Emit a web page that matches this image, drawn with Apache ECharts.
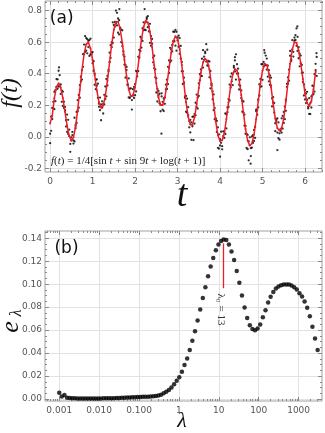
<!DOCTYPE html>
<html>
<head>
<meta charset="utf-8">
<script src="https://cdn.jsdelivr.net/npm/echarts@6/dist/echarts.min.js"></script>
<style>
  html, body { margin: 0; padding: 0; background: #fff; }
  #chart { width: 325px; height: 433px; }
</style>
</head>
<body>
<div id="chart"></div>
<script>
// ---- panel (a): noisy samples and the fitted signal, t step 0.05 / 0.025 ----
var RED_STEP = 0.05;
var redY = [0.085, 0.133, 0.245, 0.316, 0.339, 0.312, 0.246, 0.159, 0.071, 0.005,
  -0.023, -0.003, 0.065, 0.172, 0.298, 0.423, 0.525, 0.586, 0.599, 0.562,
  0.487, 0.390, 0.294, 0.220, 0.185, 0.198, 0.259, 0.356, 0.474, 0.588,
  0.679, 0.730, 0.730, 0.682, 0.595, 0.488, 0.383, 0.300, 0.257, 0.262,
  0.314, 0.403, 0.511, 0.616, 0.696, 0.736, 0.725, 0.666, 0.570, 0.454,
  0.341, 0.251, 0.202, 0.202, 0.249, 0.333, 0.434, 0.533, 0.606, 0.638,
  0.621, 0.556, 0.455, 0.335, 0.219, 0.128, 0.078, 0.077, 0.124, 0.208,
  0.309, 0.407, 0.472, 0.495, 0.482, 0.427, 0.327, 0.209, 0.096, 0.010,
  -0.027, -0.022, 0.023, 0.113, 0.219, 0.322, 0.398, 0.430, 0.420, 0.360,
  0.265, 0.154, 0.049, -0.024, -0.055, -0.042, 0.014, 0.112, 0.227, 0.337,
  0.421, 0.463, 0.456, 0.402, 0.315, 0.212, 0.116, 0.055, 0.040, 0.057,
  0.118, 0.225, 0.347, 0.464, 0.553, 0.599, 0.597, 0.548, 0.465, 0.367,
  0.277, 0.215, 0.195, 0.226, 0.302, 0.413];

var DOT_STEP = 0.025;
var dotsA = [0.020, 0.038, 0.183, 0.182, 0.285, 0.226, 0.316, 0.364, 0.319, 0.391,
  0.272, 0.292, 0.196, 0.223, 0.189, 0.105, 0.031, 0.108, 0.005, -0.045,
  -0.003, 0.031, -0.023, -0.029, 0.075, 0.158, 0.162, 0.265, 0.248, 0.381,
  0.423, 0.444, 0.585, 0.538, 0.626, 0.529, 0.609, 0.613, 0.522, 0.525,
  0.537, 0.419, 0.400, 0.302, 0.324, 0.337, 0.210, 0.169, 0.205, 0.185,
  0.148, 0.266, 0.239, 0.367, 0.326, 0.425, 0.474, 0.581, 0.568, 0.596,
  0.709, 0.698, 0.800, 0.706, 0.750, 0.649, 0.692, 0.680, 0.575, 0.541,
  0.458, 0.455, 0.443, 0.330, 0.250, 0.306, 0.257, 0.233, 0.302, 0.246,
  0.334, 0.288, 0.413, 0.507, 0.551, 0.544, 0.626, 0.608, 0.726, 0.810,
  0.726, 0.757, 0.695, 0.698, 0.716, 0.578, 0.590, 0.502, 0.434, 0.427,
  0.281, 0.304, 0.291, 0.213, 0.202, 0.256, 0.172, 0.243, 0.209, 0.301,
  0.363, 0.334, 0.484, 0.474, 0.553, 0.542, 0.606, 0.666, 0.578, 0.666,
  0.631, 0.571, 0.626, 0.496, 0.415, 0.415, 0.345, 0.247, 0.259, 0.152,
  0.188, 0.100, 0.028, 0.091, 0.067, 0.129, 0.084, 0.216, 0.188, 0.179,
  0.339, 0.358, 0.387, 0.495, 0.439, 0.508, 0.530, 0.477, 0.552, 0.451,
  0.377, 0.417, 0.327, 0.288, 0.169, 0.182, 0.106, 0.031, 0.060, -0.075,
  -0.015, -0.038, -0.059, 0.035, 0.033, 0.018, 0.143, 0.156, 0.239, 0.231,
  0.382, 0.352, 0.398, 0.449, 0.414, 0.363, 0.460, 0.402, 0.330, 0.363,
  0.245, 0.229, 0.154, 0.141, 0.019, 0.019, -0.078, -0.029, -0.003, -0.072,
  -0.068, 0.011, -0.026, 0.063, 0.162, 0.140, 0.237, 0.262, 0.367, 0.320,
  0.461, 0.445, 0.453, 0.515, 0.426, 0.451, 0.352, 0.389, 0.325, 0.243,
  0.252, 0.154, 0.086, 0.100, 0.117, -0.009, 0.022, 0.038, 0.027, 0.132,
  0.088, 0.192, 0.165, 0.316, 0.337, 0.426, 0.514, 0.480, 0.553, 0.539,
  0.629, 0.614, 0.577, 0.634, 0.498, 0.527, 0.465, 0.456, 0.347, 0.332,
  0.237, 0.274, 0.235, 0.190, 0.245, 0.144, 0.256, 0.264, 0.272, 0.397,
  0.423, 0.386];
var dotsB = [-0.040, 0.128, 0.113, 0.222, 0.175, 0.296, 0.366, 0.304, 0.419, 0.321,
  0.332, 0.222, 0.286, 0.183, 0.169, 0.065, 0.141, 0.018, 0.045, -0.095,
  -0.023, 0.011, -0.043, 0.121, 0.055, 0.088, 0.232, 0.185, 0.328, 0.351,
  0.363, 0.524, 0.525, 0.638, 0.546, 0.619, 0.569, 0.513, 0.622, 0.535,
  0.467, 0.479, 0.330, 0.362, 0.364, 0.247, 0.190, 0.249, 0.105, 0.225,
  0.208, 0.206, 0.319, 0.257, 0.386, 0.415, 0.534, 0.501, 0.598, 0.726,
  0.629, 0.728, 0.720, 0.786, 0.660, 0.739, 0.682, 0.600, 0.675, 0.521,
  0.508, 0.375, 0.423, 0.330, 0.370, 0.246, 0.307, 0.173, 0.262, 0.316,
  0.264, 0.418, 0.383, 0.417, 0.501, 0.634, 0.566, 0.688, 0.676, 0.680,
  0.676, 0.747, 0.765, 0.668, 0.596, 0.638, 0.620, 0.472, 0.514, 0.377,
  0.371, 0.224, 0.261, 0.273, 0.162, 0.276, 0.222, 0.163, 0.249, 0.331,
  0.303, 0.444, 0.404, 0.564, 0.483, 0.582, 0.666, 0.606, 0.678, 0.546,
  0.611, 0.641, 0.526, 0.576, 0.475, 0.335, 0.375, 0.257, 0.159, 0.242,
  0.138, 0.060, 0.108, -0.019, 0.127, -0.021, 0.144, 0.136, 0.268, 0.249,
  0.259, 0.398, 0.427, 0.385, 0.549, 0.488, 0.540, 0.587, 0.452, 0.481,
  0.477, 0.307, 0.337, 0.238, 0.269, 0.112, 0.116, 0.101, -0.070, 0.015,
  -0.055, 0.032, -0.079, 0.005, -0.007, 0.148, 0.053, 0.186, 0.189, 0.331,
  0.312, 0.402, 0.328, 0.439, 0.484, 0.523, 0.400, 0.432, 0.300, 0.323,
  0.295, 0.159, 0.224, 0.071, 0.069, -0.071, 0.012, -0.149, -0.053, -0.122,
  0.002, -0.039, 0.044, -0.007, 0.172, 0.170, 0.187, 0.332, 0.317, 0.460,
  0.361, 0.475, 0.533, 0.455, 0.496, 0.381, 0.422, 0.329, 0.375, 0.193,
  0.222, 0.214, 0.036, 0.110, 0.027, 0.091, -0.018, 0.048, 0.117, 0.052,
  0.158, 0.112, 0.235, 0.336, 0.377, 0.356, 0.544, 0.490, 0.613, 0.509,
  0.609, 0.644, 0.687, 0.544, 0.568, 0.447, 0.515, 0.406, 0.407, 0.262,
  0.297, 0.214, 0.285, 0.180, 0.145, 0.214, 0.186, 0.324, 0.322, 0.287,
  0.463, 0.506];
// a few stray samples far from the curve
var strayDots = [[0.21, 0.44], [1.63, 0.81], [2.62, 0.02], [4.0, -0.126], [4.72, -0.17],
  [5.35, -0.084], [4.35, 0.505], [5.04, 0.55], [5.82, 0.70], [6.27, 0.53]];

var tTicks = [0, 1, 2, 3, 4, 5, 6];
var fTicks = [-0.2, 0, 0.2, 0.4, 0.6, 0.8];

// ---- panel (b): e_lambda against lambda (log scale) ----
var lambdas = [0.00100, 0.00116, 0.00135, 0.00157, 0.00183, 0.00212, 0.00247, 0.00287, 0.00334, 0.00388,
  0.00451, 0.00524, 0.00610, 0.00709, 0.00824, 0.00958, 0.0111, 0.0130, 0.0151, 0.0175,
  0.0204, 0.0237, 0.0275, 0.0320, 0.0372, 0.0432, 0.0503, 0.0584, 0.0679, 0.0790,
  0.0918, 0.107, 0.124, 0.144, 0.168, 0.195, 0.227, 0.264, 0.306, 0.356,
  0.414, 0.482, 0.560, 0.651, 0.757, 0.880, 1.02, 1.19, 1.38, 1.61,
  1.87, 2.17, 2.53, 2.94, 3.42, 3.97, 4.61, 5.37, 6.24, 7.25,
  8.43, 9.80, 11.4, 13.2, 15.4, 17.9, 20.8, 24.2, 28.1, 32.7,
  38.0, 44.2, 51.4, 59.8, 69.5, 80.8, 93.9, 109, 127, 148,
  172, 199, 232, 270, 313, 364, 424, 493, 573, 666,
  774, 900, 1050, 1220, 1410, 1640, 1910, 2220, 2580, 3000];
var eLam = [0.0055, 0.0023, 0.0035, 0.0011, 0.0009, 0.0007, 0.0006, 0.0005, 0.0005, 0.0004,
  0.0004, 0.0004, 0.0004, 0.0004, 0.0005, 0.0005, 0.0005, 0.0006, 0.0006, 0.0007,
  0.0007, 0.0008, 0.0009, 0.0010, 0.0011, 0.0012, 0.0013, 0.0014, 0.0015, 0.0016,
  0.0017, 0.0018, 0.0019, 0.0020, 0.0021, 0.0023, 0.0025, 0.0027, 0.0030, 0.0038,
  0.0050, 0.0063, 0.0078, 0.0100, 0.0128, 0.0160, 0.0190, 0.0237, 0.0296, 0.0354,
  0.0426, 0.0507, 0.0590, 0.0684, 0.0780, 0.0880, 0.0974, 0.1070, 0.1154, 0.1229,
  0.1296, 0.1345, 0.1375, 0.1390, 0.1385, 0.1345, 0.1285, 0.1210, 0.1115, 0.1012,
  0.0902, 0.0798, 0.0706, 0.0643, 0.0609, 0.0600, 0.0614, 0.0650, 0.0713, 0.0774,
  0.0840, 0.0890, 0.0933, 0.0963, 0.0980, 0.0991, 0.0997, 0.0997, 0.0997, 0.0989,
  0.0974, 0.0954, 0.0922, 0.0893, 0.0850, 0.0794, 0.0720, 0.0630, 0.0528, 0.0426];
var lambda0 = 13;

var lamTicks = [0.001, 0.01, 0.1, 1, 10, 100, 1000];
var eTicks = [0, 0.02, 0.04, 0.06, 0.08, 0.10, 0.12, 0.14];

window.onload = function () {
    var RED = '#ee1c24';
    var TICK = '#8a8a8a';
    var GRIDC = '#e2e2e2';

    // minor tick positions
    var tMinor = [], fMinor = [], lamMinor = [], eMinor = [];
    for (var i = -1; i <= 32; i++) tMinor.push(i * 0.2);
    for (i = -5; i <= 17; i++) fMinor.push(i * 0.05);
    for (var p = -4; p <= 3; p++) for (var m = 2; m <= 9; m++) lamMinor.push(m * Math.pow(10, p));
    for (i = 0; i <= 29; i++) eMinor.push(i * 0.005);

    // one axis with long ticks (+labels), one with short ticks on the same side
    function axisPair(grid, type, pos, min, max, major, minor, fmt) {
        var base = {
            gridIndex: grid, type: type, position: pos, min: min, max: max,
            axisLine: { show: false, onZero: false }
        };
        if (type === 'log') base.logBase = 10;
        var main = Object.assign({}, base, {
            axisTick: { show: true, inside: true, length: 4, customValues: major, lineStyle: { color: TICK } },
            axisLabel: fmt ? {
                show: true, customValues: major, formatter: fmt, color: '#555',
                fontFamily: 'DejaVu Sans', fontSize: 9, margin: pos === 'bottom' ? 5 : 3
            } : { show: false },
            splitLine: { show: !!fmt, lineStyle: { color: GRIDC, width: 1 } }
        });
        var small = Object.assign({}, base, {
            axisTick: { show: true, inside: true, length: 2, customValues: minor, lineStyle: { color: TICK } },
            axisLabel: { show: false },
            splitLine: { show: false }
        });
        return [main, small];
    }

    var fmtT = function (v) { return String(Math.round(v)); };
    var fmtF = function (v) { return (Math.abs(v) < 1e-9 ? 0 : v).toFixed(1); };
    var fmtLam = function (v) { return v < 0.5 ? v.toFixed(3) : String(Math.round(v)); };
    var fmtE = function (v) { return (Math.abs(v) < 1e-9 ? 0 : v).toFixed(2); };

    var xAxes = [].concat(
        axisPair(0, 'value', 'bottom', -0.12, 6.4, tTicks, tMinor, fmtT),      // 0,1
        axisPair(0, 'value', 'top', -0.12, 6.4, tTicks, tMinor, null),         // 2,3
        axisPair(1, 'log', 'bottom', 0.00044, 3855, lamTicks, lamMinor, fmtLam), // 4,5
        axisPair(1, 'log', 'top', 0.00044, 3855, lamTicks, lamMinor, null)       // 6,7
    );
    var yAxes = [].concat(
        axisPair(0, 'value', 'left', -0.223, 0.861, fTicks, fMinor, fmtF),     // 0,1
        axisPair(0, 'value', 'right', -0.223, 0.861, fTicks, fMinor, null),    // 2,3
        axisPair(1, 'value', 'left', -0.0017, 0.1463, eTicks, eMinor, fmtE),   // 4,5
        axisPair(1, 'value', 'right', -0.0017, 0.1463, eTicks, eMinor, null)   // 6,7
    );

    var noisy = [];
    dotsA.forEach(function (y, i) { noisy.push([i * DOT_STEP, y]); });
    dotsB.forEach(function (y, i) { noisy.push([i * DOT_STEP, y]); });
    strayDots.forEach(function (d) { noisy.push(d); });
    var fitted = redY.map(function (y, i) { return [i * RED_STEP, y]; });
    var spectrum = lambdas.map(function (l, i) { return [l, eLam[i]]; });

    var option = {
        animation: false,
        backgroundColor: '#fff',
        grid: [
            { left: 45, top: 1, width: 277, height: 171, show: true, borderColor: '#a0a0a0', borderWidth: 1, backgroundColor: 'transparent' },
            { left: 45, top: 231, width: 277, height: 170, show: true, borderColor: '#a0a0a0', borderWidth: 1, backgroundColor: 'transparent' }
        ],
        xAxis: xAxes,
        yAxis: yAxes,
        series: [
            {
                type: 'scatter', xAxisIndex: 0, yAxisIndex: 0, data: noisy,
                symbolSize: 2.3, itemStyle: { color: '#000' }, silent: true
            },
            {
                type: 'line', xAxisIndex: 0, yAxisIndex: 0, data: fitted,
                showSymbol: true, symbol: 'circle', symbolSize: 2,
                itemStyle: { color: RED }, lineStyle: { color: RED, width: 1.5 }, silent: true, z: 3
            },
            {
                type: 'scatter', xAxisIndex: 4, yAxisIndex: 4, data: spectrum,
                symbolSize: 4.5, itemStyle: { color: '#000' }, silent: true, z: 2,
                markLine: {
                    silent: true, symbol: ['none', 'arrow'], symbolSize: [0, 7],
                    itemStyle: { color: RED },
                    lineStyle: { color: RED, width: 1.3, type: 'solid', opacity: 1 }, label: { show: false },
                    emphasis: { disabled: true },
                    data: [[
                        { coord: [lambda0, 0.0965], lineStyle: { color: RED }, itemStyle: { color: RED } },
                        { coord: [lambda0, 0.1355], lineStyle: { color: RED }, itemStyle: { color: RED } }
                    ]]
                }
            }
        ]
    };

    var myChart = echarts.init(document.getElementById('chart'));
    myChart.setOption(option);

    // labels and axis titles
    var serif = 'Liberation Serif';
    var ann = myChart.convertToPixel({ seriesIndex: 2 }, [lambda0, 0.078]);
    myChart.setOption({
        graphic: [
            { type: 'text', x: 61.7, y: 18.3, style: { text: '(a)', font: '17px "DejaVu Sans"', fill: '#111', align: 'center', verticalAlign: 'middle' } },
            { type: 'text', x: 66.5, y: 248.3, style: { text: '(b)', font: '17px "DejaVu Sans"', fill: '#111', align: 'center', verticalAlign: 'middle' } },
            {
                type: 'text', x: 51, y: 161,
                style: {
                    text: '{i|f}(' + '{i|t}) = 1/4[sin {i|t} + sin 9{i|t} + log({i|t} + 1)]',
                    font: '11px "' + serif + '"', fill: '#222', align: 'left', verticalAlign: 'middle',
                    rich: { i: { fontStyle: 'italic', fontFamily: serif, fontSize: 11, fill: '#222' } }
                }
            },
            { type: 'text', x: 182, y: 196, style: { text: 't', font: 'italic 38px "' + serif + '"', fill: '#111', align: 'center', verticalAlign: 'middle' } },
            { type: 'text', x: 11, y: 93, rotation: Math.PI / 2, style: { text: 'f(t)', font: 'italic 24px "' + serif + '"', fill: '#111', align: 'center', verticalAlign: 'middle' } },
            { type: 'text', x: 182, y: 421, style: { text: 'λ', font: 'italic 22px "' + serif + '"', fill: '#111', align: 'center', verticalAlign: 'middle' } },
            { type: 'text', x: 11, y: 327, rotation: Math.PI / 2, style: { text: 'e', font: 'italic 26px "' + serif + '"', fill: '#111', align: 'center', verticalAlign: 'middle' } },
            { type: 'text', x: 17, y: 313, rotation: Math.PI / 2, style: { text: 'λ', font: 'italic 16px "' + serif + '"', fill: '#111', align: 'center', verticalAlign: 'middle' } },
            { type: 'text', x: ann[0] - 2, y: ann[1], rotation: -Math.PI / 2, style: { text: 'λ₀ = 13', font: '11px "' + serif + '"', fill: '#333', align: 'center', verticalAlign: 'middle' } }
        ]
    });

    window.onresize = function () {
        myChart.resize();
    };
};
</script>
</body>
</html>
